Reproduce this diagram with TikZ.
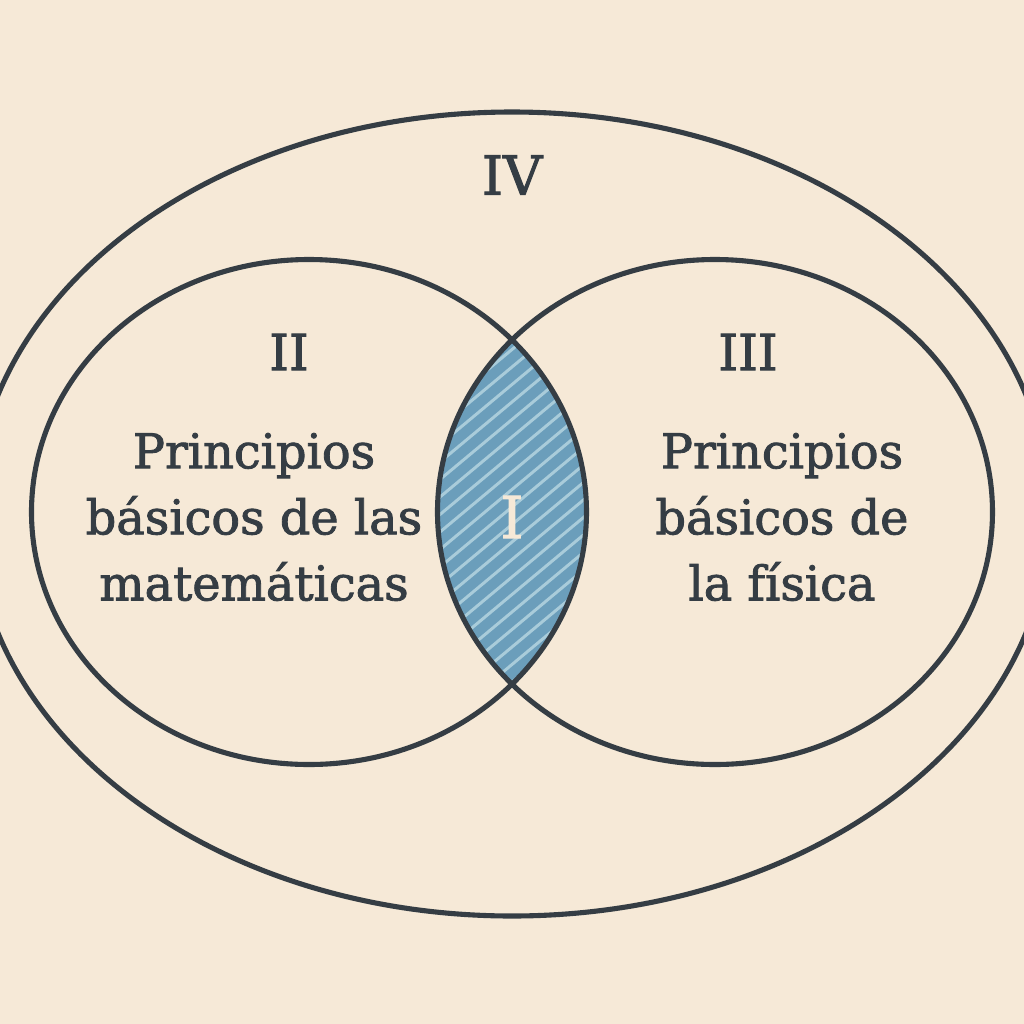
\documentclass[tikz,border=0pt]{standalone}
\usepackage{fontspec}
\setmainfont{DejaVu Serif}
\newfontfamily\vennfont{DejaVu Serif}[FakeBold=1.8]
\usepackage{tikz}
\usetikzlibrary{positioning}
\definecolor{vennPaper}{HTML}{F6E9D7}
\definecolor{vennInk}{HTML}{353D44}
\definecolor{vennCore}{HTML}{6B9EBB}
\definecolor{vennStripe}{HTML}{A9CCDA}

\begin{document}
\begin{tikzpicture}[
  ring/.style={draw=vennInk, line width=1.45pt},
  numeral/.style={text=vennInk, font=\vennfont\fontsize{14.2}{16}\selectfont, inner sep=0pt},
  topic/.style={text=vennInk, font=\vennfont\fontsize{13.6}{18.8}\selectfont, align=center, inner sep=0pt},
  stripe/.style={draw=vennStripe, line width=0.85pt}
]
\useasboundingbox[fill=vennPaper] (-5.12,-5.12) rectangle (5.12,5.12);
% hatched lens
\begin{scope}
  \clip (-2.03,0) ellipse [x radius=2.775, y radius=2.525];
  \fill[vennCore] (2.03,0) ellipse [x radius=2.775, y radius=2.525];
  \clip (2.03,0) ellipse [x radius=2.775, y radius=2.525];
  \foreach \k in {-20,...,12}
    \draw[stripe] (-0.9,\k*0.175) -- (0.9,\k*0.175+1.5);
\end{scope}
% outlines
\draw[ring] (0,-0.02) ellipse [x radius=5.38, y radius=4.02];
\draw[ring] (-2.03,0) ellipse [x radius=2.775, y radius=2.525];
\draw[ring] (2.03,0) ellipse [x radius=2.775, y radius=2.525];
% labels
\node[numeral, font=\vennfont\fontsize{15.4}{17}\selectfont] (four) at (0,3.37) {IV};
\node[numeral] (two) at (-2.23,1.60) {II};
\node[numeral] (three) at (2.36,1.60) {III};
\node[numeral, text=vennPaper, font=\vennfont\fontsize{16.5}{18}\selectfont] (one) at (0,-0.05) {I};
\node[topic] (math) at (-2.58,-0.05) {Principios\\básicos de las\\matemáticas};
\node[topic] (phys) at (2.70,-0.05) {Principios\\básicos de\\la física};
\end{tikzpicture}
\end{document}
